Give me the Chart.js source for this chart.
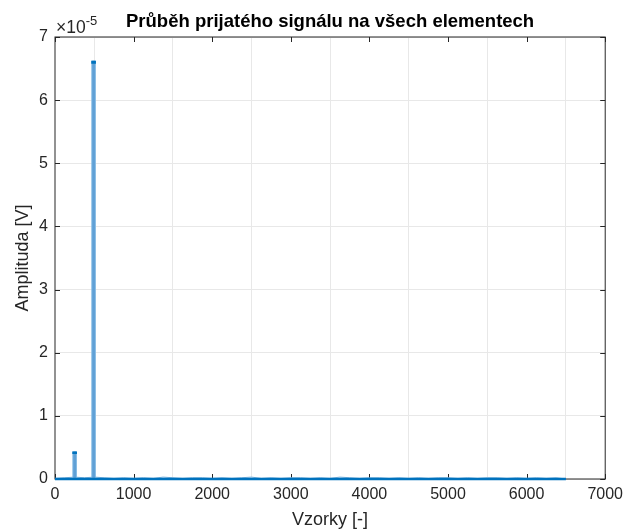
<!DOCTYPE html>
<html><head><meta charset="utf-8">
<script src="https://cdn.jsdelivr.net/npm/chart.js@4/dist/chart.umd.min.js"></script>
<style>html,body{margin:0;padding:0;background:#fff}#wrap{width:629px;height:532px}</style>
</head><body><div id="wrap"><canvas id="c" width="629" height="532"></canvas></div>
<script>
// ---- data ----
const spikeSamples = [250, 491];
const spikeAmplitudes = [0.43e-5, 6.62e-5];
const spikeCapBottoms = [0.40e-5, 6.58e-5];
const baselineSamples = [0, 6500];
const baselineAmplitudes = [0, 0];
const noiseSamples = [0,125,250,375,500,625,750,875,1000,1125,1250,1375,1500,1625,1750,1875,2000,2125,2250,2375,2500,2625,2750,2875,3000,3125,3250,3375,3500,3625,3750,3875,4000,4125,4250,4375,4500,4625,4750,4875,5000,5125,5250,5375,5500,5625,5750,5875,6000,6125,6250,6375,6500];
const noiseAmplitudes = [0.01e-5,0.02e-5,0.03e-5,0.02e-5,0.03e-5,0.02e-5,0.01e-5,0.02e-5,0.01e-5,0.02e-5,0.01e-5,0.03e-5,0.02e-5,0.01e-5,0.02e-5,0.02e-5,0.01e-5,0.02e-5,0.01e-5,0.02e-5,0.03e-5,0.01e-5,0.02e-5,0.01e-5,0.02e-5,0.02e-5,0.01e-5,0.02e-5,0.01e-5,0.03e-5,0.02e-5,0.01e-5,0.02e-5,0.02e-5,0.01e-5,0.02e-5,0.01e-5,0.02e-5,0.01e-5,0.02e-5,0.02e-5,0.01e-5,0.02e-5,0.01e-5,0.02e-5,0.02e-5,0.01e-5,0.02e-5,0.01e-5,0.02e-5,0.01e-5,0.02e-5,0];
const xTicks = [0,1000,2000,3000,4000,5000,6000,7000];
const yTicks = [0,1e-5,2e-5,3e-5,4e-5,5e-5,6e-5,7e-5];
const titleText = 'Průběh prijatého signálu na všech elementech';
const xLabel = 'Vzorky [-]';
const yLabel = 'Amplituda [V]';

const FONT = "'Liberation Sans', Arial, Helvetica, sans-serif";
const AX = '#262626';

const toXY = (xs, ys) => xs.map((x, i) => ({x, y: ys[i]}));

const boxPlugin = {
  id: 'matlabBox',
  beforeDatasetsDraw(chart) {
    const {ctx, chartArea: a, scales} = chart;
    ctx.save();
    ctx.strokeStyle = AX;
    ctx.lineWidth = 1;
    ctx.strokeRect(a.left, a.top, a.right - a.left, a.bottom - a.top);
    ctx.beginPath();
    const L = 5;
    xTicks.forEach(v => {
      const px = Math.round(scales.x.getPixelForValue(v)) + 0.5;
      ctx.moveTo(px, a.bottom); ctx.lineTo(px, a.bottom - L);
      ctx.moveTo(px, a.top); ctx.lineTo(px, a.top + L);
    });
    yTicks.forEach(v => {
      const py = Math.round(scales.y.getPixelForValue(v)) + 0.5;
      ctx.moveTo(a.left, py); ctx.lineTo(a.left + L, py);
      ctx.moveTo(a.right, py); ctx.lineTo(a.right - L, py);
    });
    ctx.stroke();
    ctx.restore();
  },
  afterDraw(chart) {
    const {ctx, chartArea: a} = chart;
    ctx.save();
    ctx.fillStyle = '#000';
    ctx.font = 'bold 18.5px ' + FONT;
    ctx.textAlign = 'center';
    ctx.textBaseline = 'alphabetic';
    ctx.fillText(titleText, (a.left + a.right) / 2, 27);
    ctx.fillStyle = AX;
    ctx.textAlign = 'left';
    ctx.font = '17.5px ' + FONT;
    ctx.fillText('\u00d710', a.left + 1, 33);
    const w = ctx.measureText('\u00d710').width;
    ctx.font = '13px ' + FONT;
    ctx.fillText('-5', a.left + 1 + w, 25);
    ctx.restore();
  }
};

new Chart(document.getElementById('c'), {
  type: 'line',
  data: {
    datasets: [
      { type: 'bar', label: 'spike cap', data: toXY(spikeSamples, spikeSamples.map((s, i) => [spikeCapBottoms[i], spikeAmplitudes[i]])),
        backgroundColor: '#0072BD', barThickness: 4, grouped: false, borderWidth: 0, order: 1 },
      { type: 'bar', label: 'spike core', data: toXY(spikeSamples, spikeAmplitudes),
        backgroundColor: 'rgb(96,160,214)', barThickness: 2, grouped: false, borderWidth: 0, order: 2 },
      { type: 'bar', label: 'spike', data: toXY(spikeSamples, spikeAmplitudes),
        backgroundColor: 'rgb(132,186,228)', barThickness: 4, grouped: false, borderWidth: 0, order: 3 },
      { label: 'baseline', data: toXY(baselineSamples, baselineAmplitudes), borderColor: '#0072BD',
        borderWidth: 2.5, pointRadius: 0, clip: 4, order: 0 },
      { label: 'noise', data: toXY(noiseSamples, noiseAmplitudes), borderColor: 'rgb(120,178,222)',
        borderWidth: 1, pointRadius: 0, clip: 4, order: 4 }
    ]
  },
  options: {
    responsive: false, animation: false, devicePixelRatio: 1,
    layout: { padding: { top: 37, right: 22, left: 0, bottom: 0 } },
    plugins: { legend: { display: false }, tooltip: { enabled: false }, title: { display: false } },
    scales: {
      x: {
        type: 'linear', min: 0, max: 7000, offset: false,
        afterBuildTicks: s => { s.ticks = xTicks.map(v => ({value: v})); },
        afterFit: s => { s.height = 53; },
        ticks: { color: AX, font: { family: FONT, size: 16 }, padding: 6, maxRotation: 0, autoSkip: false, callback: v => String(v) },
        grid: { color: '#e8e8e8', lineWidth: 1, drawTicks: false },
        border: { display: false },
        title: { display: true, text: xLabel, color: AX, font: { family: FONT, size: 18 }, padding: { top: 0, bottom: 1 } }
      },
      y: {
        type: 'linear', min: 0, max: 7e-5,
        afterBuildTicks: s => { s.ticks = yTicks.map(v => ({value: v})); },
        afterFit: s => { s.width = 55; },
        ticks: { color: AX, font: { family: FONT, size: 16 }, padding: 7, callback: v => String(Math.round(v / 1e-5)) },
        grid: { color: '#e8e8e8', lineWidth: 1, drawTicks: false },
        border: { display: false },
        title: { display: true, text: yLabel, color: AX, font: { family: FONT, size: 18 }, padding: { top: 12, bottom: 0 } }
      }
    }
  },
  plugins: [boxPlugin]
});
</script></body></html>
